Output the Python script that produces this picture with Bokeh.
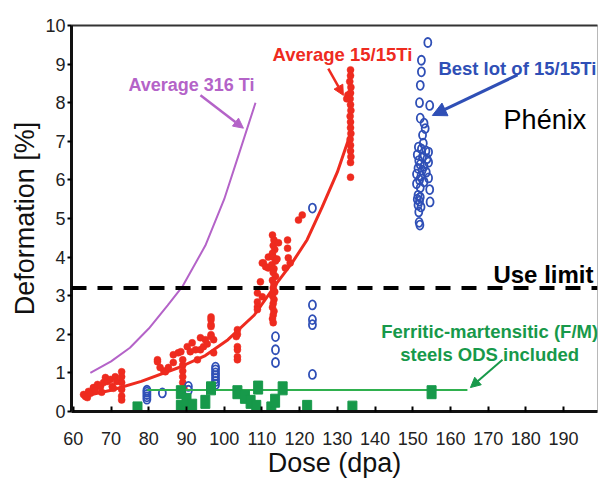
from bokeh.plotting import figure
from bokeh.models import (Range1d, Span, Label, Arrow, NormalHead, LinearAxis,
                          FixedTicker)
from bokeh.embed import file_html
from bokeh.resources import INLINE

FONT = "Liberation Sans"
PURPLE = "#b463c8"
RED = "#ee2b1f"
BLUE = "#2f4fb6"
GREEN = "#17994a"
GREEN_LINE = "#2fb04e"

# Average swelling curves (dose in dpa, deformation in %)
avg_316_dose = [64.5, 70, 75, 80, 85, 89, 95, 100, 104, 108.3]
avg_316_def = [1.0, 1.3, 1.65, 2.15, 2.75, 3.25, 4.3, 5.5, 6.7, 8.0]

avg_1515_dose = [63, 70, 78, 88, 95, 101, 108, 114, 118, 122, 126, 130, 133.5]
avg_1515_def = [0.4, 0.55, 0.78, 1.14, 1.45, 1.86, 2.5, 3.33, 3.85, 4.45, 5.3, 6.2, 7.2]

# 15/15Ti measurements
red_dose = [62.7, 63.2, 63.7, 64.0, 64.5, 65.3, 65.8, 66.4, 67.2, 67.5, 68.0, 68.5,
            69.0, 69.8, 70.3, 70.6, 71.1, 71.5,
            72.8, 72.8, 72.8, 72.8, 72.8, 72.8,
            82.3, 82.3, 83.0, 84.0, 84.4, 85.2, 86.5, 86.5, 87.8, 88.5,
            89.0, 89.0, 89.0, 89.0, 89.0, 89.3,
            90.2, 91.0, 91.5, 92.4, 92.9, 93.7, 93.7, 94.5, 95.0, 95.5,
            96.5, 96.5, 96.5, 96.5, 96.5, 96.5, 97.2, 97.2,
            103.5, 103.5, 103.2, 103.5, 103.5, 103.5, 103.5,
            108.8, 108.8, 108.8, 108.8, 109.6, 110.1, 110.1, 110.4, 111.0, 111.7, 111.7,
            112.8, 113.2, 113.0, 113.4, 112.8, 113.0, 113.6, 112.6, 113.2, 113.0, 113.6,
            112.8, 113.2, 113.0, 113.4, 112.8, 113.2, 113.0, 112.8, 113.2, 113.0, 112.8,
            113.0, 114.4, 114.0,
            116.8, 116.8, 117.0, 117.5, 116.2, 119.7, 120.7,
            133.5, 133.5, 133.3, 133.6, 133.5, 133.4, 133.5, 133.6, 133.4, 133.5,
            133.5, 133.6, 133.4, 133.5, 133.5, 133.6, 133.5, 133.5, 132.8, 132.5]
red_def = [0.44, 0.39, 0.36, 0.52, 0.47, 0.62, 0.55, 0.70, 0.65, 0.50, 0.75, 0.88,
           0.78, 0.83, 0.65, 0.60, 0.90, 0.78,
           1.03, 0.90, 0.75, 0.57, 0.40, 0.30,
           1.34, 1.29, 1.14, 1.05, 1.03, 1.14, 1.27, 1.47, 1.52, 1.55,
           1.34, 1.20, 1.05, 0.90, 0.75, 0.60,
           1.68, 1.55, 1.78, 1.60, 1.34, 1.91, 1.60, 1.68, 1.86, 1.75,
           2.45, 2.38, 2.25, 2.20, 1.99, 1.94, 1.86, 1.52,
           2.12, 2.00, 1.94, 1.68, 1.60, 1.42, 1.34,
           3.07, 2.84, 2.71, 2.64, 3.36, 2.97, 3.85, 3.85, 3.75, 3.72, 4.00,
           4.57, 4.44, 4.30, 4.20, 4.10, 4.00, 3.90, 3.80, 3.70, 3.60, 3.50,
           3.40, 3.30, 3.20, 3.10, 3.00, 2.90, 2.80, 2.70, 2.60, 2.50, 2.40,
           2.30, 4.37, 3.95,
           4.44, 4.23, 3.98, 3.85, 3.72, 4.96, 5.09,
           8.85, 8.70, 8.55, 8.40, 8.25, 8.10, 7.95, 7.80, 7.65, 7.50,
           7.35, 7.20, 7.05, 6.90, 6.75, 6.60, 6.45, 6.07, 8.20, 8.10]

# Best lot of 15/15Ti
blue_dose = [79.5, 79.5, 79.5, 79.5, 79.5, 83.6, 90.5, 90.5,
             97.7, 97.7, 97.7, 97.7, 97.7, 97.7, 97.7,
             113.6, 113.6, 113.6, 123.4, 123.4, 123.4, 123.4, 123.4,
             154.0, 152.3, 152.3, 152.0, 151.8, 154.5, 152.0, 153.0, 153.3, 152.6,
             152.8, 151.5, 152.3, 153.5, 154.2, 151.2, 152.6, 153.8, 151.6, 154.2,
             152.0, 153.0, 151.4, 152.5, 153.6, 151.0, 152.2, 154.2, 151.8, 153.0,
             151.0, 154.5, 152.0, 151.4, 152.0, 151.2, 151.8, 154.6, 151.4, 152.2,
             151.6, 151.7, 151.9]
blue_def = [0.32, 0.38, 0.44, 0.50, 0.55, 0.48, 0.55, 0.65,
            0.70, 0.78, 0.85, 0.93, 1.00, 1.08, 1.15,
            1.94, 1.60, 1.27, 5.27, 2.76, 2.38, 2.25, 0.96,
            9.56, 9.10, 8.80, 8.45, 8.00, 7.93, 7.60, 7.47, 7.33, 7.16,
            6.95, 6.85, 6.80, 6.75, 6.72, 6.65, 6.60, 6.55, 6.50, 6.46,
            6.40, 6.35, 6.30, 6.25, 6.20, 6.15, 6.10, 6.05, 6.00, 5.95,
            5.90, 5.75, 5.80, 5.60, 5.55, 5.50, 5.45, 5.43, 5.35, 5.30,
            5.17, 4.90, 4.83]

# Ferritic-martensitic steels
fm_dose = [77.0, 88.5, 88.5, 90.0, 91.5, 95.0, 96.5, 103.5, 105.5, 107.0, 108.5,
           109.0, 112.5, 113.5, 115.5, 122.0, 134.0, 155.0]
fm_def = [0.08, 0.50, 0.12, 0.30, 0.15, 0.25, 0.60, 0.50, 0.38, 0.25, 0.12,
          0.62, 0.08, 0.28, 0.60, 0.12, 0.10, 0.50]
fm_trend_dose = [79.6, 164.5]
fm_trend_def = [0.56, 0.56]

use_limit = 3.2

x_ticks = list(range(60, 200, 10))
y_ticks = list(range(0, 11))

# annotation anchors: (x_start, y_start, x_end, y_end)
arrow_316 = (93.7, 8.19, 105.1, 7.34)
arrow_1515 = (127.6, 8.88, 131.6, 8.19)
arrow_best = (177.8, 8.72, 155.2, 7.67)
arrow_fm = (173.8, 1.34, 165.3, 0.62)

p = figure(width=600, height=480, output_backend="svg", toolbar_location=None,
           x_range=Range1d(59.5, 199), y_range=Range1d(0, 10),
           min_border_left=71, min_border_right=3, min_border_top=25,
           min_border_bottom=68)
p.background_fill_color = "white"
p.border_fill_color = "white"
p.outline_line_color = "#b8b8b8"
p.outline_line_width = 1
p.xgrid.visible = False
p.ygrid.visible = False

# axes
xa = p.xaxis[0]
xa.ticker = FixedTicker(ticks=x_ticks)
xa.axis_label = "Dose (dpa)"
xa.axis_label_text_font = FONT
xa.axis_label_text_font_size = "27px"
xa.axis_label_text_font_style = "normal"
xa.axis_label_text_color = "#111111"
xa.axis_label_standoff = 0
xa.major_label_text_font = FONT
xa.major_label_text_font_size = "18px"
xa.major_label_text_color = "#222222"
xa.major_label_standoff = 20
xa.major_tick_in = 5
xa.major_tick_out = 0
xa.major_tick_line_width = 2
xa.minor_tick_line_color = None
xa.axis_line_width = 3
xa.axis_line_color = "#111111"

ya = p.yaxis[0]
ya.ticker = FixedTicker(ticks=y_ticks)
ya.axis_label = "Deformation [%]"
ya.axis_label_text_font = FONT
ya.axis_label_text_font_size = "27px"
ya.axis_label_text_font_style = "normal"
ya.axis_label_text_color = "#111111"
ya.axis_label_standoff = 2
ya.major_label_text_font = FONT
ya.major_label_text_font_size = "18px"
ya.major_label_text_color = "#222222"
ya.major_label_standoff = 2
ya.major_tick_in = 0
ya.major_tick_out = 4
ya.major_tick_line_width = 2
ya.minor_tick_line_color = None
ya.axis_line_width = 3
ya.axis_line_color = "#111111"

top = LinearAxis(ticker=FixedTicker(ticks=[]), axis_line_width=2,
                 axis_line_color="#333333", major_tick_line_color=None,
                 minor_tick_line_color=None, major_label_text_color=None)
p.add_layout(top, "above")

# use limit
p.add_layout(Span(location=use_limit, dimension="width", line_color="black",
                  line_width=4, line_dash="15 11"))

# average curves
p.line(avg_316_dose, avg_316_def, line_color=PURPLE, line_width=2)
p.line(avg_1515_dose, avg_1515_def, line_color=RED, line_width=3)

# data
p.scatter(red_dose, red_def, size=7, fill_color=RED, line_color=RED,
          line_width=0.5)
p.ellipse(x=blue_dose, y=blue_def, width=7, height=9, width_units="screen",
          height_units="screen", fill_color=None, line_color=BLUE, line_width=1.8)
p.line(fm_trend_dose, fm_trend_def, line_color=GREEN_LINE, line_width=2)
p.rect(x=fm_dose, y=fm_def, width=9, height=13, width_units="screen",
       height_units="screen", fill_color=GREEN, line_color=GREEN)


def add_arrow(coords, color, width, size):
    xs, ys, xe, ye = coords
    p.add_layout(Arrow(end=NormalHead(size=size, fill_color=color, line_color=color),
                       x_start=xs, y_start=ys, x_end=xe, y_end=ye,
                       line_color=color, line_width=width))


add_arrow(arrow_316, PURPLE, 2.5, 10)
add_arrow(arrow_1515, RED, 2.5, 10)
add_arrow(arrow_best, BLUE, 3, 14)
add_arrow(arrow_fm, GREEN, 2, 10)


def add_label(x, y, text, color, size, style="bold", align="left"):
    p.add_layout(Label(x=x, y=y, text=text, text_color=color,
                       text_font=FONT, text_font_size=size,
                       text_font_style=style, text_align=align,
                       text_baseline="alphabetic"))


add_label(74.6, 8.45, "Average 316 Ti", PURPLE, "18px")
add_label(112.8, 9.25, "Average 15/15Ti", RED, "18.5px")
add_label(156.8, 8.89, "Best lot of 15/15Ti", BLUE, "18.5px")
add_label(174.1, 7.55, "Phénix", "black", "27px", style="normal")
add_label(171.4, 3.54, "Use limit", "black", "24px")
add_label(170.4, 2.07, "Ferritic-martensitic (F/M)", GREEN, "18.5px", align="center")
add_label(170.4, 1.47, "steels ODS included", GREEN, "18.5px", align="center")

open("out.html", "w").write(file_html(p, INLINE))
